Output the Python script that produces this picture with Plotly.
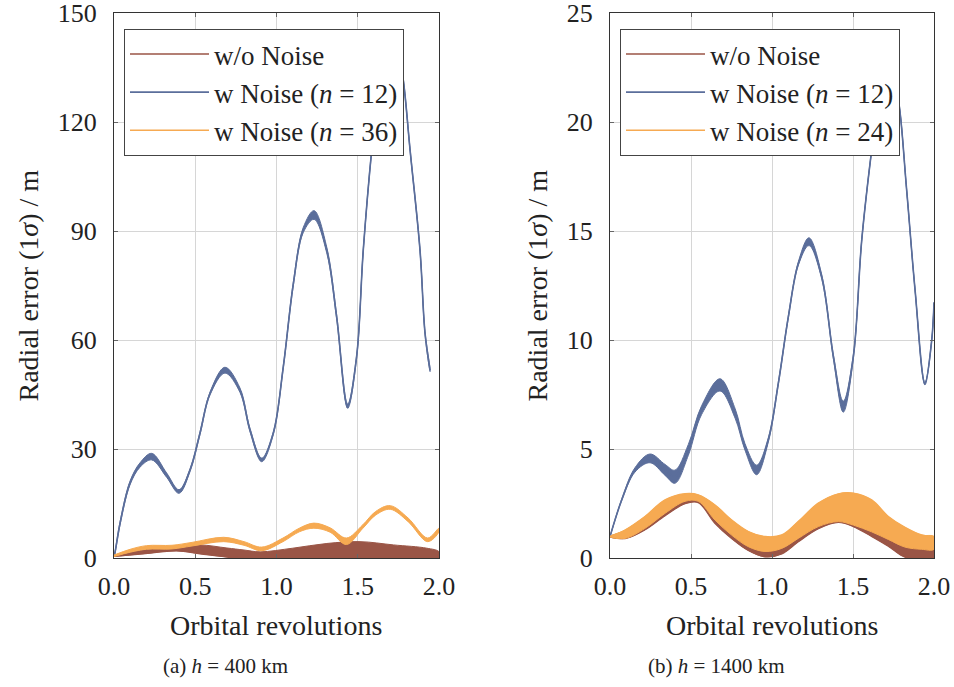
import plotly.graph_objects as go

# ---------------- data: (a) h = 400 km ----------------
a_blue_x = [0.0, 0.006, 0.037, 0.098, 0.16, 0.232, 0.324, 0.40, 0.468, 0.529, 0.591, 0.683,
            0.775, 0.837, 0.909, 0.98, 1.042, 1.104, 1.165, 1.231, 1.309, 1.37, 1.438, 1.493,
            1.534, 1.586, 1.64, 1.70, 1.75, 1.78, 1.822, 1.883, 1.914, 1.945]
a_blue_y = [0.5, 1.5, 9.5, 20.6, 25.6, 27.9, 22.8, 18.3, 24.2, 34.3, 45.3, 51.7,
            46.2, 35.2, 27.0, 34.3, 52.7, 75.6, 90.3, 94.4, 84.8, 66.4, 41.8, 55.4,
            84.8, 112.3, 134.0, 142.0, 139.0, 131.6, 112.3, 84.8, 61.9, 51.7]
a_blue_noise = [0.0, 0.2, 0.4, 0.5, 0.6, 0.9, 0.6, 0.5, 0.4, 0.4, 0.4, 0.8,
                0.6, 0.5, 0.5, 0.4, 0.4, 0.5, 0.7, 1.2, 0.8, 0.6, 0.6, 0.4,
                0.4, 0.4, 0.4, 0.4, 0.4, 0.4, 0.4, 0.4, 0.4, 0.4]

a_orange_x = [0.0, 0.1, 0.2, 0.357, 0.48, 0.675, 0.8, 0.909, 1.04, 1.14, 1.23, 1.33, 1.43,
              1.53, 1.61, 1.70, 1.81, 1.93, 2.0]
a_orange_y = [0.6, 2.0, 2.9, 3.0, 3.8, 5.1, 4.0, 2.5, 5.0, 7.7, 8.9, 7.7, 4.6,
              8.6, 12.3, 13.9, 10.5, 5.0, 7.7]
a_orange_noise = [0.2, 0.4, 0.5, 0.5, 0.5, 0.6, 0.5, 0.5, 0.5, 0.5, 0.7, 0.6, 0.9,
                  0.5, 0.5, 0.5, 0.5, 0.5, 0.5]

a_brown_x = [0.0, 0.18, 0.385, 0.53, 0.695, 0.8, 0.9, 1.1, 1.31, 1.514, 1.72, 1.925, 2.0]
a_brown_upper = [0.5, 2.2, 3.1, 3.6, 2.75, 2.2, 1.7, 2.7, 4.0, 4.5, 3.6, 2.7, 1.7]
a_brown_lower = [0.5, 1.2, 2.0, 1.2, 0.3, 0.0, 0.0, 0.0, 0.0, 0.0, 0.0, 0.0, 0.0]

# ---------------- data: (b) h = 1400 km ----------------
b_blue_x = [0.0, 0.072, 0.154, 0.247, 0.34, 0.401, 0.483, 0.566, 0.679, 0.772, 0.833, 0.905,
            0.977, 1.039, 1.101, 1.163, 1.228, 1.307, 1.379, 1.44, 1.502, 1.554, 1.615, 1.66,
            1.71, 1.75, 1.78, 1.831, 1.883, 1.944, 1.986, 2.0]
b_blue_y = [0.98, 2.66, 4.04, 4.57, 4.04, 3.73, 4.95, 6.79, 7.94, 6.64, 5.1, 4.04,
            5.41, 8.01, 11.07, 13.52, 14.51, 12.9, 9.23, 6.94, 9.23, 14.59, 18.7, 21.2,
            22.0, 21.8, 21.0, 16.9, 12.3, 8.0, 10.0, 11.7]
b_blue_noise = [0.0, 0.04, 0.1, 0.2, 0.25, 0.3, 0.25, 0.2, 0.28, 0.22, 0.15, 0.22,
                0.1, 0.06, 0.06, 0.08, 0.18, 0.1, 0.1, 0.25, 0.1, 0.05, 0.04, 0.04,
                0.04, 0.04, 0.04, 0.04, 0.04, 0.06, 0.04, 0.04]

b_band_x = [0.0, 0.093, 0.216, 0.34, 0.463, 0.545, 0.648, 0.751, 0.854, 0.957, 1.06, 1.162,
            1.286, 1.41, 1.502, 1.615, 1.718, 1.821, 1.924, 2.0]
b_orange_upper = [0.98, 1.28, 1.9, 2.66, 2.94, 2.89, 2.43, 1.74, 1.21, 0.98, 1.05, 1.67,
                  2.51, 2.94, 2.97, 2.66, 1.9, 1.4, 1.05, 0.98]
b_orange_lower = [0.98, 0.9, 1.36, 2.05, 2.6, 2.6, 1.74, 1.05, 0.52, 0.3, 0.44, 0.9,
                  1.44, 1.67, 1.51, 1.2, 0.85, 0.5, 0.4, 0.4]
b_brown_upper = [0.98, 1.25, 1.85, 2.6, 2.9, 2.85, 2.4, 1.7, 1.18, 0.95, 1.02, 1.62,
                 2.45, 2.9, 2.92, 2.6, 1.85, 1.35, 1.0, 0.95]
b_brown_lower = [0.98, 0.9, 1.3, 1.95, 2.5, 2.55, 1.6, 0.9, 0.35, 0.06, 0.2, 0.75,
                 1.35, 1.64, 1.45, 1.0, 0.55, 0.05, 0.0, 0.0]

labels_a = ["w/o Noise", "w Noise (<i>n</i> = 12)", "w Noise (<i>n</i> = 36)"]
labels_b = ["w/o Noise", "w Noise (<i>n</i> = 12)", "w Noise (<i>n</i> = 24)"]

BROWN = "#9a5546"
BLUE = "#5b6e9b"
ORANGE = "#f6aa52"
FONT = "Liberation Serif"
TXT = "#222222"
FS = 28


def band(x, up, lo, color, xa, ya):
    return go.Scatter(x=list(x) + list(x)[::-1], y=list(up) + list(lo)[::-1],
                      fill="toself", fillcolor=color, mode="lines",
                      line=dict(color=color, width=1, shape="spline", smoothing=1.0),
                      xaxis=xa, yaxis=ya, showlegend=False, hoverinfo="skip")


def line(x, y, color, name, xa, ya, leg):
    return go.Scatter(x=x, y=y, mode="lines", name=name,
                      line=dict(color=color, width=1.6, shape="spline", smoothing=1.0),
                      xaxis=xa, yaxis=ya, legend=leg)


fig = go.Figure()

# ---- left panel ----
a_blue_up = [v + n for v, n in zip(a_blue_y, a_blue_noise)]
a_blue_lo = [v - n for v, n in zip(a_blue_y, a_blue_noise)]
a_or_up = [v + n for v, n in zip(a_orange_y, a_orange_noise)]
a_or_lo = [v - n for v, n in zip(a_orange_y, a_orange_noise)]
fig.add_trace(band(a_brown_x, a_brown_upper, a_brown_lower, BROWN, "x", "y"))
fig.add_trace(line(a_brown_x, a_brown_lower, BROWN, labels_a[0], "x", "y", "legend"))
fig.add_trace(band(a_blue_x, a_blue_up, a_blue_lo, BLUE, "x", "y"))
fig.add_trace(line(a_blue_x, a_blue_y, BLUE, labels_a[1], "x", "y", "legend"))
fig.add_trace(band(a_orange_x, a_or_up, a_or_lo, ORANGE, "x", "y"))
fig.add_trace(line(a_orange_x, a_orange_y, ORANGE, labels_a[2], "x", "y", "legend"))

# ---- right panel ----
b_blue_up = [v + n for v, n in zip(b_blue_y, b_blue_noise)]
b_blue_lo = [v - n for v, n in zip(b_blue_y, b_blue_noise)]
fig.add_trace(band(b_band_x, b_brown_upper, b_brown_lower, BROWN, "x2", "y2"))
fig.add_trace(line(b_band_x, b_brown_lower, BROWN, labels_b[0], "x2", "y2", "legend2"))
fig.add_trace(band(b_blue_x, b_blue_up, b_blue_lo, BLUE, "x2", "y2"))
fig.add_trace(line(b_blue_x, b_blue_y, BLUE, labels_b[1], "x2", "y2", "legend2"))
fig.add_trace(band(b_band_x, b_orange_upper, b_orange_lower, ORANGE, "x2", "y2"))
fig.add_trace(line(b_band_x, b_orange_upper, ORANGE, labels_b[2], "x2", "y2", "legend2"))

W, H = 954, 687
ydom = [(H - 558) / H, (H - 13) / H]

common_axis = dict(showline=True, linecolor="#333333", linewidth=1, mirror="ticks",
                   ticks="inside", ticklen=4, tickcolor="#666666", tickwidth=1,
                   showgrid=True, gridcolor="#d6d6d6", gridwidth=1, zeroline=False,
                   automargin=False, ticklabeloverflow="allow",
                   tickfont=dict(family=FONT, size=26, color=TXT))

xcommon = dict(common_axis, range=[0, 2], tickvals=[0, 0.5, 1.0, 1.5, 2.0],
               tickformat=".1f", ticklabelstandoff=5)

legend_common = dict(bgcolor="white", bordercolor="#444444", borderwidth=1,
                     font=dict(family=FONT, size=27, color=TXT), xanchor="left",
                     yanchor="top", tracegroupgap=0, itemwidth=79)

fig.update_layout(
    template="none",
    width=W, height=H, margin=dict(l=0, r=0, t=0, b=0, pad=0),
    plot_bgcolor="white", paper_bgcolor="white",
    font=dict(family=FONT, color=TXT),
    xaxis=dict(xcommon, domain=[114 / W, 439 / W], anchor="y"),
    yaxis=dict(common_axis, domain=ydom, range=[0, 150], tickvals=[0, 30, 60, 90, 120, 150],
               anchor="x", ticklabelstandoff=11),
    xaxis2=dict(xcommon, domain=[610 / W, 934 / W], anchor="y2"),
    yaxis2=dict(common_axis, domain=ydom, range=[0, 25], tickvals=[0, 5, 10, 15, 20, 25],
                anchor="x2", ticklabelstandoff=11),
    legend=dict(legend_common, x=124 / W, y=(H - 29) / H),
    legend2=dict(legend_common, x=620 / W, y=(H - 29) / H),
    showlegend=True,
)

ann = [
    dict(text="Radial error (1<i>σ</i>) / m", x=28 / W, y=(H - 285.5) / H, textangle=-90,
         font=dict(size=FS)),
    dict(text="Radial error (1<i>σ</i>) / m", x=537 / W, y=(H - 285.5) / H, textangle=-90,
         font=dict(size=FS)),
    dict(text="Orbital revolutions", x=276 / W, y=(H - 625) / H, font=dict(size=FS)),
    dict(text="Orbital revolutions", x=772 / W, y=(H - 625) / H, font=dict(size=FS)),
    dict(text="(a) <i>h</i> = 400 km", x=225 / W, y=(H - 666) / H, font=dict(size=21)),
    dict(text="(b) <i>h</i> = 1400 km", x=716 / W, y=(H - 666) / H, font=dict(size=21)),
]
for a in ann:
    a.update(xref="paper", yref="paper", showarrow=False, xanchor="center", yanchor="middle")
    a["font"].update(family=FONT, color=TXT)
fig.update_layout(annotations=ann)

fig.write_html("out.html", config={"displayModeBar": False},
               post_script="document.body.style.margin='0';document.body.style.overflow='hidden';")
